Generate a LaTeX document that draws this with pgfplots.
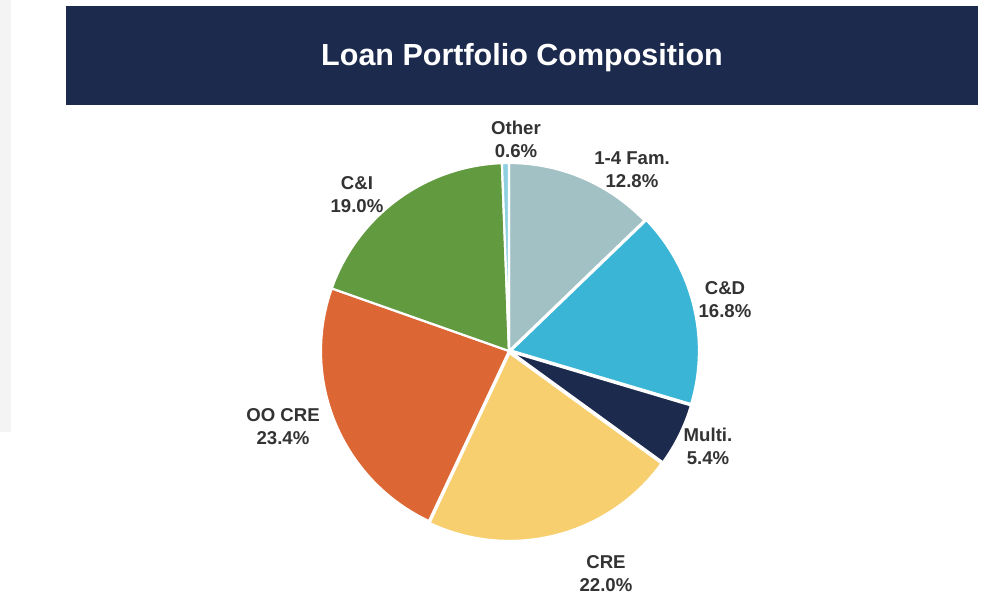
\documentclass[border=0pt]{standalone}
\usepackage{pgfplots}
\pgfplotsset{compat=1.18}
\usepackage{fontspec}
\setmainfont{Liberation Sans}

\definecolor{navy}{HTML}{1C2A4E}
\definecolor{famc}{HTML}{A2C1C4}
\definecolor{cdc}{HTML}{3AB5D6}
\definecolor{crec}{HTML}{F7CF6E}
\definecolor{oocrec}{HTML}{DC6735}
\definecolor{cic}{HTML}{629A3F}
\definecolor{othc}{HTML}{8ECFE0}
\definecolor{lbl}{HTML}{333333}
\definecolor{panel}{HTML}{F4F4F4}

% loan shares in percent, clockwise from 12 o'clock
\def\vFam{12.8}
\def\vCD{16.8}
\def\vMulti{5.4}
\def\vCRE{22.0}
\def\vOOCRE{23.4}
\def\vCI{19.0}
\def\vOther{0.6}

% slice boundaries (degrees)
\pgfmathsetmacro\aA{90}
\pgfmathsetmacro\aB{\aA-3.6*\vFam}
\pgfmathsetmacro\aC{\aB-3.6*\vCD}
\pgfmathsetmacro\aD{\aC-3.6*\vMulti}
\pgfmathsetmacro\aE{\aD-3.6*\vCRE}
\pgfmathsetmacro\aF{\aE-3.6*\vOOCRE}
\pgfmathsetmacro\aG{\aF-3.6*\vCI}
\pgfmathsetmacro\aH{\aG-3.6*\vOther}

\def\R{188pt}
\newcommand\slice[4]{% start, end, colour, shift
  \fill[#3, draw=white, line width=2.2pt, line join=round]
    (axis cs:509,253) ++({(#1+#2)/2}:#4) -- ++(#1:\R)
    arc[start angle=#1, end angle=#2, radius=\R] -- cycle;}

\begin{document}
\begin{tikzpicture}
\begin{axis}[
    width=998pt, height=604pt,
    scale only axis,
    xmin=0, xmax=998, ymin=0, ymax=604,
    hide axis,
    clip=false,
]
\fill[white] (axis cs:0,0) rectangle (axis cs:998,604);
\fill[panel] (axis cs:0,172) rectangle (axis cs:11,604);

% title banner
\fill[navy] (axis cs:66,499) rectangle (axis cs:978,598);
\node[text=white, font=\fontsize{30.5}{34}\selectfont\bfseries]
  at (axis cs:522,546) {Loan Portfolio Composition};

% pie
\slice{\aA}{\aB}{famc}{0pt}
\slice{\aB}{\aC}{cdc}{2pt}
\slice{\aC}{\aD}{navy}{2pt}
\slice{\aD}{\aE}{crec}{2pt}
\slice{\aE}{\aF}{oocrec}{0pt}
\slice{\aF}{\aG}{cic}{0pt}
\slice{\aG}{\aH}{othc}{0pt}

% labels
\tikzset{lab/.style={text=lbl, align=center, inner sep=0pt,
  font=\fontsize{18.6}{23}\selectfont\bfseries}}
\node[lab] at (axis cs:516,465) {Other\\0.6\%};
\node[lab] at (axis cs:632,434.5) {1-4 Fam.\\12.8\%};
\node[lab] at (axis cs:725,304) {C\&D\\16.8\%};
\node[lab] at (axis cs:708,158) {Multi.\\5.4\%};
\node[lab] at (axis cs:606,30.5) {CRE\\22.0\%};
\node[lab] at (axis cs:283,177.5) {OO CRE\\23.4\%};
\node[lab] at (axis cs:357,409) {C\&I\\19.0\%};
\end{axis}
\end{tikzpicture}
\end{document}
